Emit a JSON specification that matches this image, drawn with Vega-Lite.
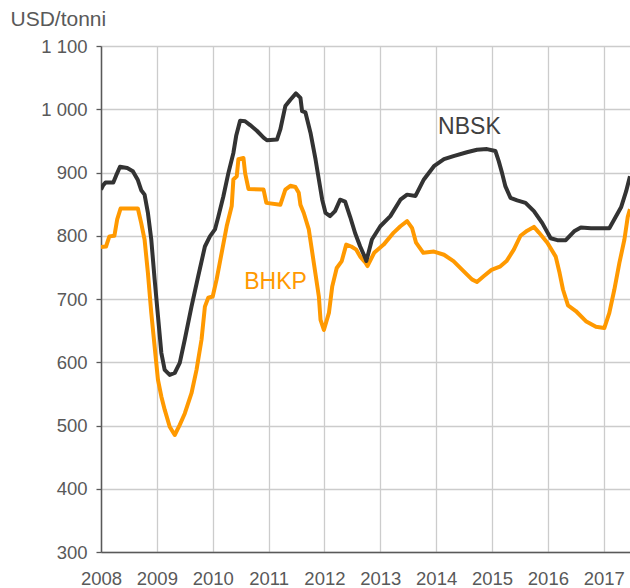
{
  "$schema": "https://vega.github.io/schema/vega-lite/v6.json",
  "autosize": "none",
  "width": 529,
  "height": 506,
  "padding": {"left": 101, "top": 46, "right": 0, "bottom": 36},
  "background": "white",
  "config": {
    "view": {"stroke": null},
    "font": "Liberation Sans"
  },
  "datasets": {
    "prices": [
      {"series": "BHKP", "year": 2008.00, "price": 782},
      {"series": "BHKP", "year": 2008.09, "price": 783},
      {"series": "BHKP", "year": 2008.15, "price": 799},
      {"series": "BHKP", "year": 2008.24, "price": 800},
      {"series": "BHKP", "year": 2008.29, "price": 826},
      {"series": "BHKP", "year": 2008.35, "price": 843},
      {"series": "BHKP", "year": 2008.66, "price": 843},
      {"series": "BHKP", "year": 2008.72, "price": 820},
      {"series": "BHKP", "year": 2008.78, "price": 794},
      {"series": "BHKP", "year": 2008.84, "price": 741},
      {"series": "BHKP", "year": 2008.90, "price": 678},
      {"series": "BHKP", "year": 2008.96, "price": 625},
      {"series": "BHKP", "year": 2009.02, "price": 572},
      {"series": "BHKP", "year": 2009.08, "price": 546},
      {"series": "BHKP", "year": 2009.14, "price": 525},
      {"series": "BHKP", "year": 2009.23, "price": 498},
      {"series": "BHKP", "year": 2009.32, "price": 485},
      {"series": "BHKP", "year": 2009.41, "price": 501},
      {"series": "BHKP", "year": 2009.50, "price": 519},
      {"series": "BHKP", "year": 2009.62, "price": 551},
      {"series": "BHKP", "year": 2009.71, "price": 588},
      {"series": "BHKP", "year": 2009.80, "price": 636},
      {"series": "BHKP", "year": 2009.86, "price": 688},
      {"series": "BHKP", "year": 2009.92, "price": 702},
      {"series": "BHKP", "year": 2010.00, "price": 704},
      {"series": "BHKP", "year": 2010.07, "price": 731},
      {"series": "BHKP", "year": 2010.16, "price": 773},
      {"series": "BHKP", "year": 2010.25, "price": 815},
      {"series": "BHKP", "year": 2010.34, "price": 847},
      {"series": "BHKP", "year": 2010.37, "price": 889},
      {"series": "BHKP", "year": 2010.43, "price": 894},
      {"series": "BHKP", "year": 2010.46, "price": 921},
      {"series": "BHKP", "year": 2010.55, "price": 923},
      {"series": "BHKP", "year": 2010.58, "price": 899},
      {"series": "BHKP", "year": 2010.64, "price": 874},
      {"series": "BHKP", "year": 2010.91, "price": 873},
      {"series": "BHKP", "year": 2010.96, "price": 852},
      {"series": "BHKP", "year": 2011.21, "price": 849},
      {"series": "BHKP", "year": 2011.30, "price": 873},
      {"series": "BHKP", "year": 2011.39, "price": 879},
      {"series": "BHKP", "year": 2011.48, "price": 877},
      {"series": "BHKP", "year": 2011.54, "price": 868},
      {"series": "BHKP", "year": 2011.57, "price": 849},
      {"series": "BHKP", "year": 2011.63, "price": 836},
      {"series": "BHKP", "year": 2011.72, "price": 810},
      {"series": "BHKP", "year": 2011.81, "price": 757},
      {"series": "BHKP", "year": 2011.90, "price": 704},
      {"series": "BHKP", "year": 2011.93, "price": 667},
      {"series": "BHKP", "year": 2011.99, "price": 651},
      {"series": "BHKP", "year": 2012.08, "price": 678},
      {"series": "BHKP", "year": 2012.14, "price": 720},
      {"series": "BHKP", "year": 2012.22, "price": 749},
      {"series": "BHKP", "year": 2012.31, "price": 760},
      {"series": "BHKP", "year": 2012.39, "price": 786},
      {"series": "BHKP", "year": 2012.48, "price": 783},
      {"series": "BHKP", "year": 2012.57, "price": 778},
      {"series": "BHKP", "year": 2012.64, "price": 767},
      {"series": "BHKP", "year": 2012.73, "price": 758},
      {"series": "BHKP", "year": 2012.77, "price": 752},
      {"series": "BHKP", "year": 2012.89, "price": 773},
      {"series": "BHKP", "year": 2013.06, "price": 786},
      {"series": "BHKP", "year": 2013.24, "price": 805},
      {"series": "BHKP", "year": 2013.36, "price": 815},
      {"series": "BHKP", "year": 2013.48, "price": 823},
      {"series": "BHKP", "year": 2013.57, "price": 812},
      {"series": "BHKP", "year": 2013.64, "price": 789},
      {"series": "BHKP", "year": 2013.77, "price": 773},
      {"series": "BHKP", "year": 2013.96, "price": 775},
      {"series": "BHKP", "year": 2014.14, "price": 770},
      {"series": "BHKP", "year": 2014.31, "price": 760},
      {"series": "BHKP", "year": 2014.49, "price": 744},
      {"series": "BHKP", "year": 2014.64, "price": 731},
      {"series": "BHKP", "year": 2014.73, "price": 727},
      {"series": "BHKP", "year": 2014.85, "price": 736},
      {"series": "BHKP", "year": 2014.99, "price": 746},
      {"series": "BHKP", "year": 2015.14, "price": 751},
      {"series": "BHKP", "year": 2015.26, "price": 760},
      {"series": "BHKP", "year": 2015.39, "price": 778},
      {"series": "BHKP", "year": 2015.51, "price": 800},
      {"series": "BHKP", "year": 2015.63, "price": 808},
      {"series": "BHKP", "year": 2015.75, "price": 814},
      {"series": "BHKP", "year": 2015.84, "price": 805},
      {"series": "BHKP", "year": 2015.99, "price": 789},
      {"series": "BHKP", "year": 2016.14, "price": 767},
      {"series": "BHKP", "year": 2016.21, "price": 741},
      {"series": "BHKP", "year": 2016.27, "price": 715},
      {"series": "BHKP", "year": 2016.36, "price": 690},
      {"series": "BHKP", "year": 2016.50, "price": 681},
      {"series": "BHKP", "year": 2016.68, "price": 665},
      {"series": "BHKP", "year": 2016.86, "price": 656},
      {"series": "BHKP", "year": 2017.01, "price": 654},
      {"series": "BHKP", "year": 2017.10, "price": 678},
      {"series": "BHKP", "year": 2017.19, "price": 715},
      {"series": "BHKP", "year": 2017.28, "price": 757},
      {"series": "BHKP", "year": 2017.37, "price": 794},
      {"series": "BHKP", "year": 2017.43, "price": 830},
      {"series": "BHKP", "year": 2017.47, "price": 842},
      {"series": "NBSK", "year": 2008.00, "price": 873},
      {"series": "NBSK", "year": 2008.04, "price": 880},
      {"series": "NBSK", "year": 2008.08, "price": 884},
      {"series": "NBSK", "year": 2008.22, "price": 884},
      {"series": "NBSK", "year": 2008.27, "price": 895},
      {"series": "NBSK", "year": 2008.34, "price": 909},
      {"series": "NBSK", "year": 2008.47, "price": 907},
      {"series": "NBSK", "year": 2008.57, "price": 902},
      {"series": "NBSK", "year": 2008.66, "price": 888},
      {"series": "NBSK", "year": 2008.72, "price": 872},
      {"series": "NBSK", "year": 2008.78, "price": 865},
      {"series": "NBSK", "year": 2008.84, "price": 836},
      {"series": "NBSK", "year": 2008.90, "price": 794},
      {"series": "NBSK", "year": 2008.96, "price": 731},
      {"series": "NBSK", "year": 2009.02, "price": 673},
      {"series": "NBSK", "year": 2009.08, "price": 615},
      {"series": "NBSK", "year": 2009.14, "price": 588},
      {"series": "NBSK", "year": 2009.23, "price": 580},
      {"series": "NBSK", "year": 2009.32, "price": 583},
      {"series": "NBSK", "year": 2009.41, "price": 599},
      {"series": "NBSK", "year": 2009.50, "price": 636},
      {"series": "NBSK", "year": 2009.62, "price": 688},
      {"series": "NBSK", "year": 2009.74, "price": 736},
      {"series": "NBSK", "year": 2009.86, "price": 783},
      {"series": "NBSK", "year": 2009.95, "price": 799},
      {"series": "NBSK", "year": 2010.04, "price": 810},
      {"series": "NBSK", "year": 2010.10, "price": 830},
      {"series": "NBSK", "year": 2010.19, "price": 862},
      {"series": "NBSK", "year": 2010.28, "price": 899},
      {"series": "NBSK", "year": 2010.37, "price": 931},
      {"series": "NBSK", "year": 2010.42, "price": 958},
      {"series": "NBSK", "year": 2010.49, "price": 982},
      {"series": "NBSK", "year": 2010.58, "price": 981},
      {"series": "NBSK", "year": 2010.67, "price": 975},
      {"series": "NBSK", "year": 2010.79, "price": 966},
      {"series": "NBSK", "year": 2010.91, "price": 955},
      {"series": "NBSK", "year": 2010.97, "price": 951},
      {"series": "NBSK", "year": 2011.15, "price": 952},
      {"series": "NBSK", "year": 2011.21, "price": 968},
      {"series": "NBSK", "year": 2011.30, "price": 1005},
      {"series": "NBSK", "year": 2011.39, "price": 1015},
      {"series": "NBSK", "year": 2011.49, "price": 1025},
      {"series": "NBSK", "year": 2011.57, "price": 1018},
      {"series": "NBSK", "year": 2011.60, "price": 997},
      {"series": "NBSK", "year": 2011.66, "price": 995},
      {"series": "NBSK", "year": 2011.75, "price": 963},
      {"series": "NBSK", "year": 2011.84, "price": 921},
      {"series": "NBSK", "year": 2011.90, "price": 889},
      {"series": "NBSK", "year": 2011.96, "price": 857},
      {"series": "NBSK", "year": 2012.02, "price": 836},
      {"series": "NBSK", "year": 2012.10, "price": 831},
      {"series": "NBSK", "year": 2012.19, "price": 839},
      {"series": "NBSK", "year": 2012.28, "price": 857},
      {"series": "NBSK", "year": 2012.37, "price": 854},
      {"series": "NBSK", "year": 2012.46, "price": 830},
      {"series": "NBSK", "year": 2012.55, "price": 804},
      {"series": "NBSK", "year": 2012.64, "price": 783},
      {"series": "NBSK", "year": 2012.73, "price": 765},
      {"series": "NBSK", "year": 2012.75, "price": 760},
      {"series": "NBSK", "year": 2012.85, "price": 794},
      {"series": "NBSK", "year": 2013.00, "price": 815},
      {"series": "NBSK", "year": 2013.18, "price": 831},
      {"series": "NBSK", "year": 2013.36, "price": 857},
      {"series": "NBSK", "year": 2013.48, "price": 865},
      {"series": "NBSK", "year": 2013.63, "price": 863},
      {"series": "NBSK", "year": 2013.78, "price": 889},
      {"series": "NBSK", "year": 2013.96, "price": 910},
      {"series": "NBSK", "year": 2014.14, "price": 921},
      {"series": "NBSK", "year": 2014.31, "price": 926},
      {"series": "NBSK", "year": 2014.55, "price": 932},
      {"series": "NBSK", "year": 2014.73, "price": 936},
      {"series": "NBSK", "year": 2014.91, "price": 937},
      {"series": "NBSK", "year": 2015.06, "price": 934},
      {"series": "NBSK", "year": 2015.12, "price": 918},
      {"series": "NBSK", "year": 2015.18, "price": 899},
      {"series": "NBSK", "year": 2015.24, "price": 878},
      {"series": "NBSK", "year": 2015.33, "price": 860},
      {"series": "NBSK", "year": 2015.45, "price": 856},
      {"series": "NBSK", "year": 2015.60, "price": 852},
      {"series": "NBSK", "year": 2015.75, "price": 839},
      {"series": "NBSK", "year": 2015.90, "price": 820},
      {"series": "NBSK", "year": 2016.05, "price": 796},
      {"series": "NBSK", "year": 2016.17, "price": 793},
      {"series": "NBSK", "year": 2016.32, "price": 793},
      {"series": "NBSK", "year": 2016.47, "price": 807},
      {"series": "NBSK", "year": 2016.59, "price": 813},
      {"series": "NBSK", "year": 2016.77, "price": 812},
      {"series": "NBSK", "year": 2017.10, "price": 812},
      {"series": "NBSK", "year": 2017.19, "price": 826},
      {"series": "NBSK", "year": 2017.31, "price": 845},
      {"series": "NBSK", "year": 2017.40, "price": 870},
      {"series": "NBSK", "year": 2017.47, "price": 894}
    ],
    "labels": [
      {"series": "NBSK", "year": 2014.595, "price": 972},
      {"series": "BHKP", "year": 2011.124, "price": 727}
    ]
  },
  "layer": [
    {
      "data": {"name": "prices"},
      "mark": {"type": "line", "strokeWidth": 4, "clip": true, "strokeJoin": "round"},
      "encoding": {
        "x": {
          "field": "year",
          "type": "quantitative",
          "scale": {"domain": [2008, 2017.47], "nice": false, "zero": false},
          "axis": {
            "title": null,
            "values": [2008, 2009, 2010, 2011, 2012, 2013, 2014, 2015, 2016, 2017],
            "format": "d",
            "ticks": false,
            "tickSize": 0,
            "labelPadding": 17,
            "labelFontSize": 18.5,
            "labelColor": "#595959",
            "labelFont": "Liberation Sans",
            "labelFlush": false,
            "grid": true,
            "gridColor": "#cccccc",
            "gridWidth": 1.3,
            "domainColor": "#595959",
            "domainWidth": 1.5
          }
        },
        "y": {
          "field": "price",
          "type": "quantitative",
          "scale": {"domain": [300, 1100], "nice": false, "zero": false},
          "axis": {
            "title": "USD/tonni",
            "titleAngle": 0,
            "titleAlign": "left",
            "titleBaseline": "alphabetic",
            "titleX": -91,
            "titleY": -21,
            "titleFontSize": 21,
            "titleFontWeight": "normal",
            "titleColor": "#595959",
            "titleFont": "Liberation Sans",
            "values": [300, 400, 500, 600, 700, 800, 900, 1000, 1100],
            "labelExpr": "replace(format(datum.value, ','), ',', ' ')",
            "tickSize": 5,
            "tickColor": "#595959",
            "tickWidth": 1.3,
            "labelPadding": 9,
            "labelFontSize": 18.5,
            "labelColor": "#595959",
            "labelFont": "Liberation Sans",
            "grid": true,
            "gridColor": "#cccccc",
            "gridWidth": 1.3,
            "domainColor": "#595959",
            "domainWidth": 1.5
          }
        },
        "color": {
          "field": "series",
          "type": "nominal",
          "scale": {"domain": ["BHKP", "NBSK"], "range": ["#ff9900", "#333333"]},
          "legend": null
        }
      }
    },
    {
      "data": {"name": "labels"},
      "mark": {"type": "text", "fontSize": 23, "font": "Liberation Sans", "align": "center", "baseline": "middle"},
      "encoding": {
        "x": {"field": "year", "type": "quantitative"},
        "y": {"field": "price", "type": "quantitative"},
        "text": {"field": "series"},
        "color": {
          "field": "series",
          "type": "nominal",
          "scale": {"domain": ["BHKP", "NBSK"], "range": ["#ff9900", "#404040"]},
          "legend": null
        }
      }
    }
  ],
  "resolve": {"scale": {"color": "independent"}}
}
